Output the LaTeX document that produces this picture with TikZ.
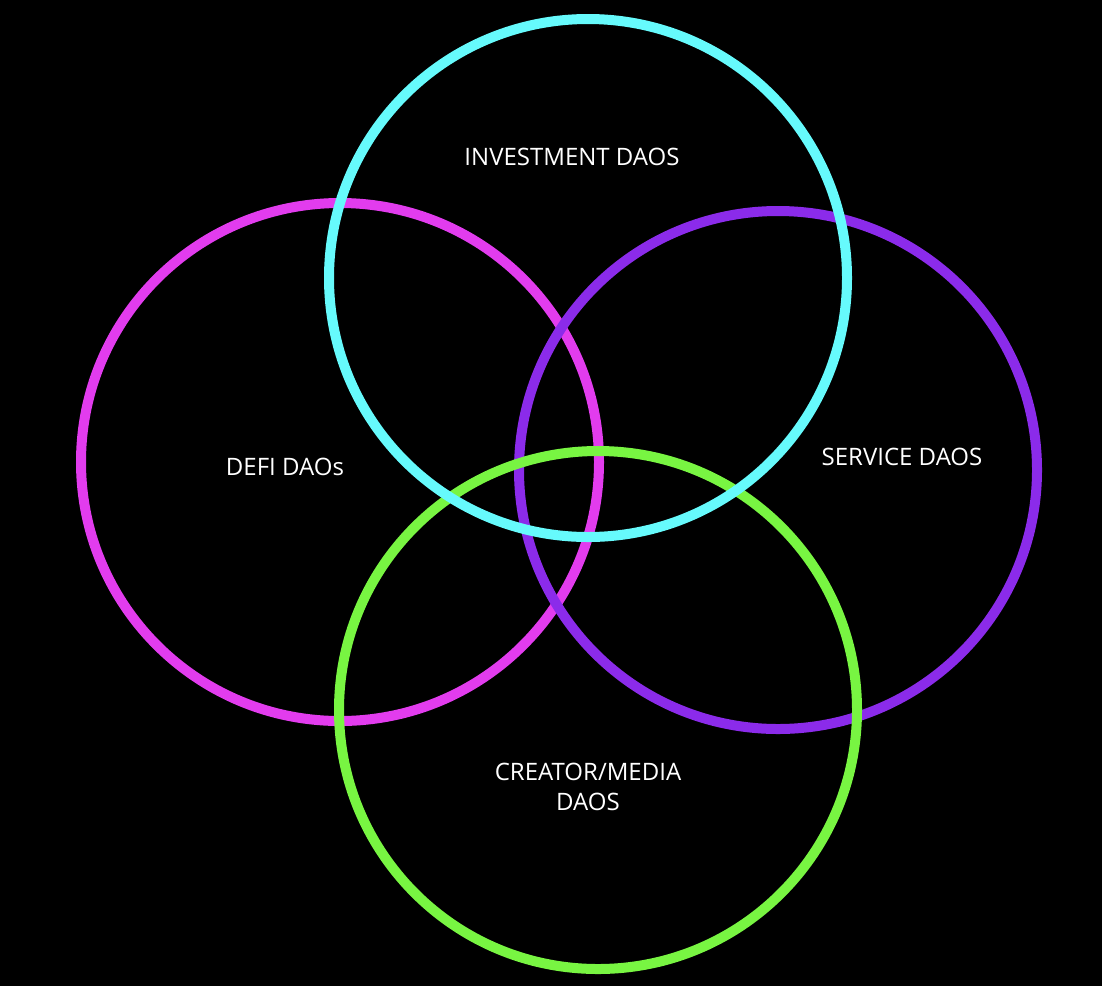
\documentclass[tikz,border=0pt]{standalone}
\usepackage{fontspec}
\setmainfont{Open Sans}
\definecolor{cy}{HTML}{66FAFC}
\definecolor{mg}{HTML}{E23CEE}
\definecolor{pu}{HTML}{8B2BEA}
\definecolor{gr}{HTML}{78F542}
\begin{document}
\begin{tikzpicture}[x=1pt,y=-1pt,
  ring/.style={line width=10pt},
  lab/.style={text=white,font=\fontsize{24}{30}\selectfont,align=center}]
\fill[black] (0,0) rectangle (1102,986);
\useasboundingbox (0,0) rectangle (1102,986);
\draw[ring,mg] (340,462) circle[radius=259] node[coordinate] (cm) {};
\draw[ring,pu] (778,470) circle[radius=259] node[coordinate] (cp) {};
\draw[ring,gr] (598,710) circle[radius=259] node[coordinate] (cg) {};
\draw[ring,cy] (588,278) circle[radius=259] node[coordinate] (cc) {};
\node[lab] (inv) at (572,157) {INVESTMENT DAOS};
\node[lab] (defi) at (285,467) {DEFI DAOs};
\node[lab] (serv) at (902,457) {SERVICE DAOS};
\node[lab] (crea) at (588,787) {CREATOR/MEDIA\\DAOS};
\end{tikzpicture}
\end{document}
